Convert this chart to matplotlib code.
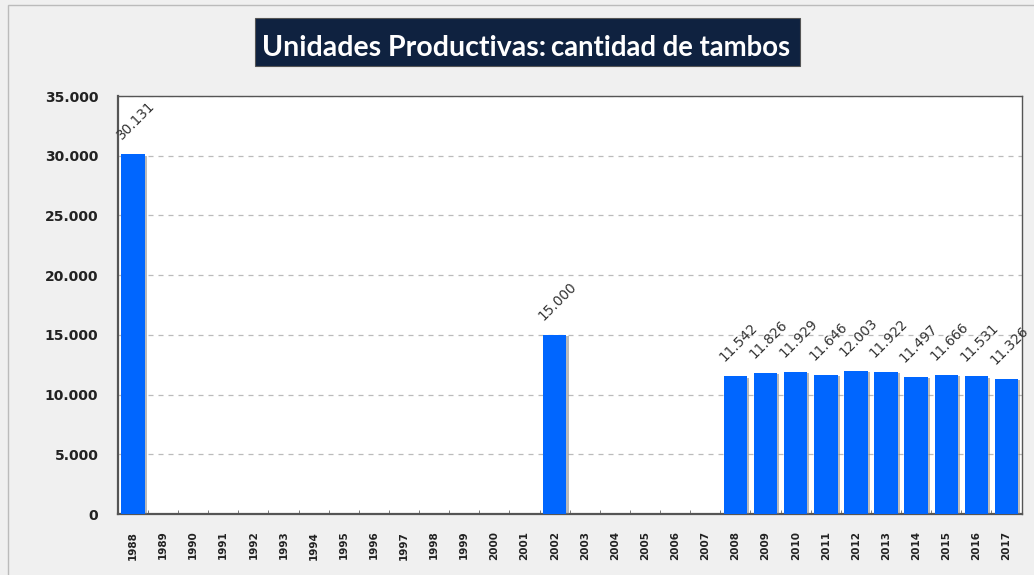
import numpy as np
import matplotlib.pyplot as plt
import matplotlib.patheffects as pe
from matplotlib.patches import Rectangle
from matplotlib.ticker import FuncFormatter, MultipleLocator

years = [str(y) for y in range(1988, 2018)]
tambos = [30131, None, None, None, None, None, None, None, None, None, None, None, None, None,
          15000, None, None, None, None, None,
          11542, 11826, 11929, 11646, 12003, 11922, 11497, 11666, 11531, 11326]

bg = '#f0f0f0'
bar_color = '#0066ff'

fig = plt.figure(figsize=(10.34, 5.75), dpi=100, facecolor=bg)
ax = fig.add_axes([0.114, 0.106, 0.874, 0.727])

x = np.arange(len(years))
vals = np.array([np.nan if v is None else v for v in tambos], dtype=float)
bars = ax.bar(x, np.nan_to_num(vals), width=0.78, color=bar_color, zorder=3)
for b in bars:
    b.set_path_effects([pe.SimplePatchShadow(offset=(1.5, -1), shadow_rgbFace='#777777', alpha=0.5),
                        pe.Normal()])

for xi, v in zip(x, tambos):
    if v is None:
        continue
    label = f'{v:,}'.replace(',', '.')
    ax.text(xi - 0.3, v + 1000, label, rotation=45, rotation_mode='anchor',
            ha='left', va='bottom', fontsize=9.8, color='#333333', zorder=4)

ax.set_xlim(-0.5, len(years) - 0.5)
ax.set_ylim(0, 35000)
ax.yaxis.set_major_locator(MultipleLocator(5000))
ax.yaxis.set_major_formatter(FuncFormatter(lambda v, p: f'{int(v):,}'.replace(',', '.')))
ax.grid(axis='y', linestyle=(0, (4, 4)), color='#bbbbbb', linewidth=0.9, zorder=0)
ax.set_xticks(x)
ax.set_xticklabels(years, rotation=90, fontsize=7.5, fontweight='bold', color='#222222')
ax.set_xticks(x[:-1] + 0.5, minor=True)
ax.tick_params(axis='x', which='major', length=0, pad=12)
ax.tick_params(axis='x', which='minor', length=3, direction='in', color='#666666')
ax.tick_params(axis='y', length=0, labelsize=10, pad=14, labelcolor='#222222')
for t in ax.get_yticklabels():
    t.set_fontweight('bold')
for s in ax.spines.values():
    s.set_color('#555555')
    s.set_linewidth(1.0)
ax.spines['left'].set_linewidth(1.6)
ax.spines['bottom'].set_linewidth(1.6)

# outer frame
fig.add_artist(Rectangle((0.008, -0.01), 1.2, 1.001, transform=fig.transFigure,
                         fill=False, edgecolor='#bbbbbb', linewidth=1.0))

# title box
fig.add_artist(Rectangle((0.247, 0.885), 0.527, 0.0835, transform=fig.transFigure,
                         facecolor='#0f2240', edgecolor='#555555', linewidth=0.8))
t1 = fig.text(0.253, 0.903, 'Unidades Productivas:', fontsize=20.5, color='white',
              family='Lato', fontweight='bold', va='baseline', ha='left')
fig.canvas.draw()
bb = t1.get_window_extent(fig.canvas.get_renderer())
x_end = bb.x1 / fig.bbox.width
fig.text(x_end + 0.005, 0.903, 'cantidad de tambos', fontsize=19.8, color='white',
         family='Lato', fontweight='bold', va='baseline', ha='left')

fig.savefig('out.png', dpi=100, facecolor=bg)
